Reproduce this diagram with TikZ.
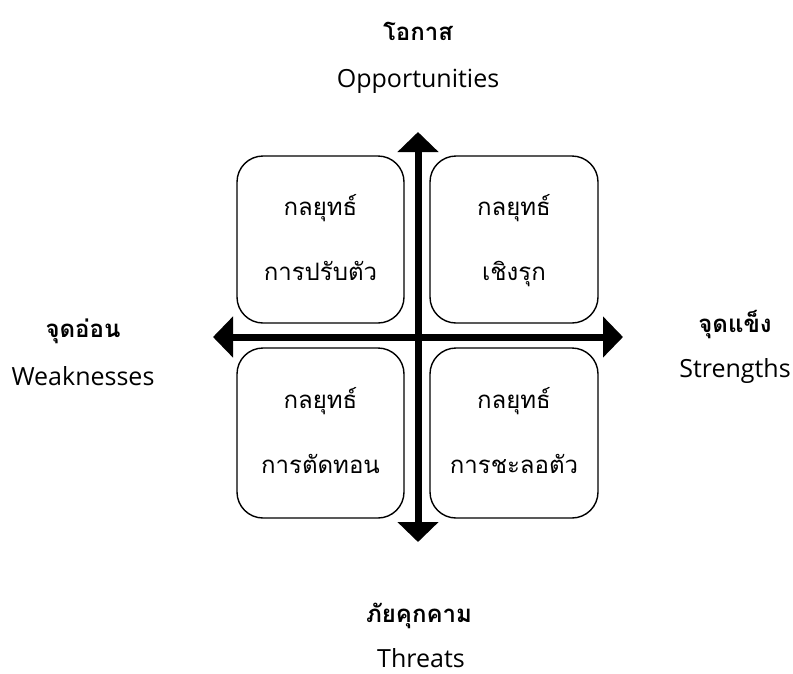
\documentclass[tikz,border=0pt]{standalone}
\usepackage{fontspec}
\setmainfont{Open Sans}
\newfontfamily\thaifont[Script=Thai]{Loma}
\usetikzlibrary{arrows.meta}
\begin{document}
\begin{tikzpicture}[x=1pt,y=-1pt,
  quad/.style={draw=black,line width=1.4pt,rounded corners=26pt,fill=white},
  axis/.style={line width=7pt,-{Triangle[width=40pt,length=20pt]}},
  boxtext/.style={anchor=base,font=\thaifont\fontsize{24}{28}\selectfont},
  thlabel/.style={anchor=base,font=\thaifont\bfseries\fontsize{24}{28}\selectfont},
  enlabel/.style={anchor=base,font=\fontsize{25}{30}\selectfont}]
\useasboundingbox (0,0) rectangle (793,673);
\fill[white] (0,0) rectangle (793,673);
% quadrant boxes
\draw[quad] (237,156) rectangle (404,323);
\draw[quad] (430,156) rectangle (598,323);
\draw[quad] (237,348) rectangle (404,518);
\draw[quad] (430,348) rectangle (598,518);
% axes
\coordinate (c) at (418,337);
\coordinate (top) at (418,132);
\coordinate (bot) at (418,542);
\coordinate (lft) at (213,337);
\coordinate (rgt) at (623,337);
\draw[axis] (c) -- (top);
\draw[axis] (c) -- (bot);
\draw[axis] (c) -- (lft);
\draw[axis] (c) -- (rgt);
% box texts
\node[boxtext] (tl1) at (320.5,215) {กลยุทธ์};
\node[boxtext] (tl2) at (320.5,280) {การปรับตัว};
\node[boxtext] (tr1) at (514,215) {กลยุทธ์};
\node[boxtext] (tr2) at (514,280) {เชิงรุก};
\node[boxtext] (bl1) at (320.5,408) {กลยุทธ์};
\node[boxtext] (bl2) at (320.5,473) {การตัดทอน};
\node[boxtext] (br1) at (514,408) {กลยุทธ์};
\node[boxtext] (br2) at (514,473) {การชะลอตัว};
% outer labels
\node[thlabel] (o1) at (418,40) {โอกาส};
\node[enlabel] (o2) at (418,87) {Opportunities};
\node[thlabel] (w1) at (83,337) {จุดอ่อน};
\node[enlabel] (w2) at (83,385) {Weaknesses};
\node[thlabel] (s1) at (735,332) {จุดแข็ง};
\node[enlabel] (s2) at (735,377) {Strengths};
\node[thlabel] (t1) at (419,622) {ภัยคุกคาม};
\node[enlabel] (t2) at (421,667) {Threats};
\end{tikzpicture}
\end{document}
